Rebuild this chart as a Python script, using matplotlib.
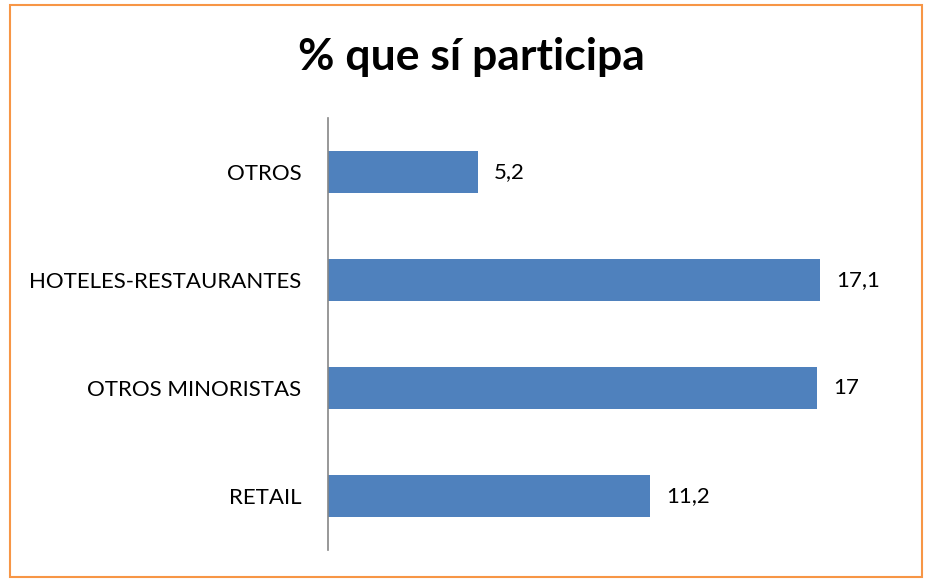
import matplotlib.pyplot as plt
from matplotlib.patches import Rectangle

categories = ["RETAIL", "OTROS MINORISTAS", "HOTELES-RESTAURANTES", "OTROS"]
values = [11.2, 17, 17.1, 5.2]
labels = ["11,2", "17", "17,1", "5,2"]

plt.rcParams['font.family'] = ['Lato', 'DejaVu Sans']

fig = plt.figure(figsize=(9.32, 5.85), dpi=100)
W, H = 932, 585

# orange frame round the chart
fig.patches.append(Rectangle((10 / W, 8 / H), 912 / W, 572 / H, transform=fig.transFigure,
                             fill=False, edgecolor="#F79646", linewidth=1.5))

ax = fig.add_axes([328 / W, (H - 550) / H, (903 - 328) / W, 432 / H])
ypos = range(len(categories))
ax.barh(ypos, values, height=0.39, color="#4F81BD")
ax.set_xlim(0, 20)
ax.set_ylim(-0.5, 3.5)
ax.set_yticks(list(ypos))
ax.set_yticklabels(categories, fontsize=16)
ax.tick_params(axis="y", length=0, pad=19)
ax.set_xticks([])
for s in ["top", "right", "bottom"]:
    ax.spines[s].set_visible(False)
ax.spines["left"].set_color("#868686")
ax.spines["left"].set_linewidth(1.2)

for y, v, t in zip(ypos, values, labels):
    ax.text(v + 0.58, y, t, va="center", ha="left", fontsize=16)

fig.text(471 / W, 1 - 57 / H, "% que sí participa", ha="center", va="center",
         fontsize=32, fontweight="bold")

fig.savefig("out.png", dpi=100)
